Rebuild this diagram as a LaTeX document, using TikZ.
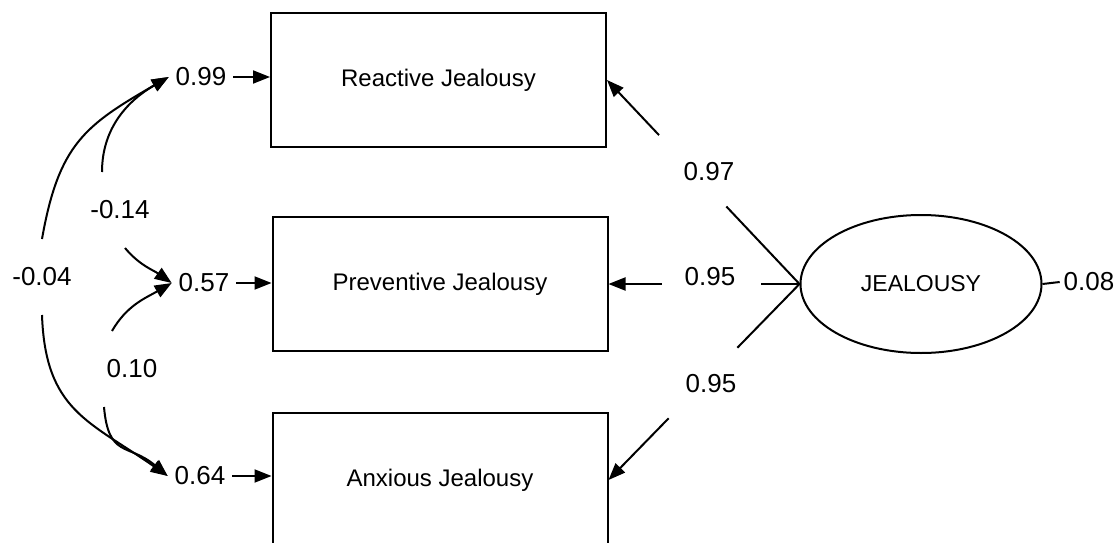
\documentclass[tikz,border=0pt]{standalone}
\usepackage{fontspec}
\setmainfont{Liberation Sans}
\usetikzlibrary{arrows.meta,shapes.geometric,calc}
\tikzstyle{obs}=[draw,line width=2pt,minimum width=335pt,minimum height=134pt,font=\fontsize{24}{28}\selectfont]
\tikzstyle{latent}=[draw,ellipse,line width=2pt,minimum width=241pt,minimum height=138pt,font=\fontsize{23}{27}\selectfont]
\tikzstyle{num}=[font=\fontsize{26}{30}\selectfont,inner sep=3pt]
\tikzstyle{err}=[num,inner xsep=6pt]
\tikzstyle{cov}=[num,minimum height=74pt]

\begin{document}
\begin{tikzpicture}[x=1pt,y=1pt,line width=2pt,>={Triangle[length=17pt,width=13pt]}]
  \clip (0,0) rectangle (1117,-543);
  \node[obs]    (reac) at (438.5,-80) {Reactive Jealousy};
  \node[obs]    (prev) at (440,-284) {Preventive Jealousy};
  \node[obs]    (anx)  at (440,-480) {Anxious Jealousy};
  \node[latent] (jeal) at (921,-284) {JEALOUSY};

  \node[err] (e1) at (201,-77)  {0.99};
  \node[err] (e2) at (204,-283) {0.57};
  \node[err] (e3) at (200,-476) {0.64};
  \node[num] (d)  at (1089,-282) {0.08};
  \node[cov] (c1) at (42,-277)  {-0.04};
  \node[cov] (c2) at (120,-210) {-0.14};
  \node[cov] (c3) at (132,-369) {0.10};
  \node[num] (l1) at (709,-172) {0.97};
  \node[num] (l2) at (710,-277) {0.95};
  \node[num] (l3) at (711,-384) {0.95};

  % errors
  \draw[->] (e1) -- (e1 -| reac.west);
  \draw[->] (e2) -- (e2 -| prev.west);
  \draw[->] (e3) -- (e3 -| anx.west);
  \draw (jeal.east) -- (d.west);

  % loadings, broken round their labels
  \foreach \b/\s/\t in {reac/.38/.73,prev/.2/.72,anx/.325/.685}
  { \draw (jeal.west) -- ($(jeal.west)!\s!(\b.east)$);
    \draw[->] ($(jeal.west)!\t!(\b.east)$) -- (\b.east); }

  % covariances
  \draw[->] (c1.north) to[out=80,in=210,looseness=1.2] (e1.west);
  \draw[->] (c1.south) to[out=-88,in=145,looseness=1.2] (e3.west);
  \draw[->] ([xshift=-18pt]c2.north) to[out=90,in=210] (e1.west);
  \draw[->] ([xshift=5pt]c2.south) to[out=-50,in=145] (e2.west);
  \draw[->] ([xshift=-20pt]c3.north) to[out=60,in=210] (e2.west);
  \draw[->] ([xshift=-28pt]c3.south) to[out=-85,in=140,looseness=1.4] (e3.west);
\end{tikzpicture}
\end{document}
